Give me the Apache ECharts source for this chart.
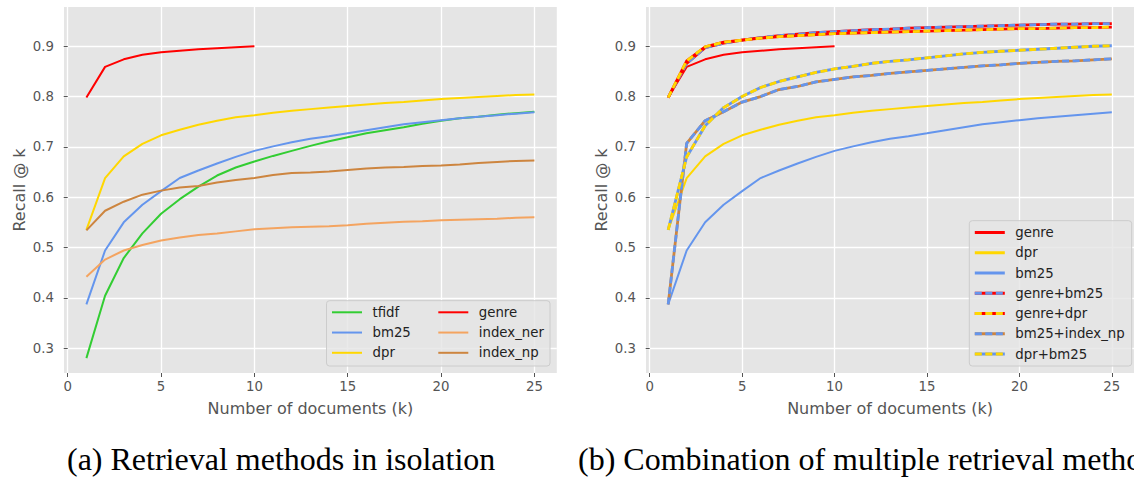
<!DOCTYPE html>
<html><head><meta charset="utf-8">
<script src="https://cdn.jsdelivr.net/npm/echarts@6/dist/echarts.min.js"></script>
<style>html,body{margin:0;padding:0;background:#fff}#c{width:1134px;height:478px}</style>
</head><body><div id="c"></div>
<script>
// ---- data ----
const kValues = [1,2,3,4,5,6,7,8,9,10,11,12,13,14,15,16,17,18,19,20,21,22,23,24,25];
const genreK = [1,2,3,4,5,6,7,8,9,10];
const xTicks = [0,5,10,15,20,25];
const yTicks = [0.3,0.4,0.5,0.6,0.7,0.8,0.9];

const tfidf    = [0.280,0.404,0.479,0.528,0.567,0.596,0.621,0.643,0.659,0.671,0.682,0.692,0.702,0.711,0.719,0.727,0.733,0.739,0.746,0.752,0.757,0.760,0.764,0.767,0.770];
const bm25     = [0.387,0.494,0.550,0.585,0.612,0.638,0.653,0.667,0.680,0.692,0.701,0.709,0.716,0.721,0.727,0.733,0.739,0.745,0.749,0.753,0.757,0.760,0.763,0.766,0.769];
const dpr      = [0.535,0.638,0.681,0.706,0.723,0.734,0.744,0.752,0.759,0.763,0.768,0.772,0.775,0.778,0.781,0.784,0.787,0.789,0.792,0.795,0.797,0.799,0.801,0.803,0.804];
const genre    = [0.798,0.859,0.874,0.883,0.888,0.891,0.894,0.896,0.898,0.900];
const indexNer = [0.442,0.476,0.494,0.505,0.514,0.520,0.525,0.528,0.532,0.536,0.538,0.540,0.541,0.542,0.544,0.547,0.549,0.551,0.552,0.554,0.555,0.556,0.557,0.559,0.560];
const indexNp  = [0.534,0.573,0.591,0.605,0.613,0.619,0.622,0.629,0.634,0.638,0.644,0.648,0.649,0.651,0.654,0.657,0.659,0.660,0.662,0.663,0.665,0.668,0.670,0.672,0.673];

const genreBm25   = [0.798,0.866,0.897,0.906,0.912,0.917,0.921,0.924,0.927,0.929,0.931,0.933,0.934,0.936,0.937,0.938,0.939,0.940,0.941,0.942,0.943,0.944,0.944,0.945,0.945];
const genreDpr    = [0.798,0.871,0.899,0.908,0.912,0.916,0.919,0.921,0.923,0.925,0.926,0.927,0.928,0.929,0.930,0.931,0.932,0.933,0.934,0.935,0.935,0.936,0.937,0.937,0.938];
const bm25IndexNp = [0.387,0.707,0.752,0.770,0.789,0.800,0.814,0.820,0.829,0.834,0.839,0.842,0.846,0.849,0.852,0.855,0.858,0.861,0.863,0.866,0.868,0.870,0.871,0.873,0.875];
const dprBm25     = [0.535,0.680,0.742,0.778,0.800,0.818,0.830,0.839,0.848,0.855,0.860,0.866,0.870,0.873,0.877,0.881,0.885,0.888,0.890,0.892,0.894,0.896,0.898,0.900,0.901];

const xTitle = 'Number of documents (k)';
const yTitle = 'Recall @ k';
const captionA = '(a) Retrieval methods in isolation';
const captionB = '(b) Combination of multiple retrieval methods';

// ---- styles ----
const C = {tfidf:'#32CD32', bm25:'#6495ED', dpr:'#FFD700', genre:'#FF0000', ner:'#F4A460', np:'#CD853F'};
const FONT = 'DejaVu Sans';
const DASH_SUFFIX = ' \u2012';

function pts(ks, vals){ return ks.map((k,i)=>[k, vals[i]]); }
function line(name, ks, vals, color, width, idx, extra){
  return Object.assign({
    type:'line', name:name, xAxisIndex:idx, yAxisIndex:idx,
    data: pts(ks, vals), symbol:'none', showSymbol:false, animation:false,
    lineStyle:{color:color, width:width}, itemStyle:{color:color},
    emphasis:{disabled:true}
  }, extra||{});
}
function dashed(name, ks, vals, color, width, idx){
  return line(name + DASH_SUFFIX, ks, vals, color, width, idx, {
    lineStyle:{color:color, width:width, type:[7,3.5]}, z:3
  });
}

function xAxis(idx){
  return {
    type:'value', gridIndex:idx, min:-0.2, max:26.2,
    axisLine:{show:false},
    axisTick:{show:true, customValues:xTicks, length:4, lineStyle:{color:'#555555', width:1}},
    axisLabel:{customValues:xTicks, color:'#555555', fontSize:13.3, fontFamily:FONT, margin:7},
    splitLine:{show:true, lineStyle:{color:'#ffffff', width:1.3}},
    name:xTitle, nameLocation:'middle', nameGap:27,
    nameTextStyle:{color:'#555555', fontSize:16, fontFamily:FONT}
  };
}
function yAxis(idx){
  return {
    type:'value', gridIndex:idx, min:0.2505, max:0.978,
    axisLine:{show:false},
    axisTick:{show:true, customValues:yTicks, length:4, lineStyle:{color:'#555555', width:1}},
    axisLabel:{customValues:yTicks, color:'#555555', fontSize:13.3, fontFamily:FONT, margin:10,
      formatter:(v)=>v.toFixed(1)},
    splitLine:{show:true, lineStyle:{color:'#ffffff', width:1.3}},
    name:yTitle, nameLocation:'middle', nameGap:37,
    nameTextStyle:{color:'#555555', fontSize:16, fontFamily:FONT}
  };
}

function legend(names, left, top, lineWidth, withText){
  return {
    data:names, orient:'vertical', left:left, top:top, padding:0,
    itemWidth:30, itemHeight:20, itemGap:0.25, z: withText ? 10 : 11,
    selectedMode:false,
    lineStyle:{width:lineWidth},
    itemStyle:{opacity:0, borderWidth:0},
    formatter: withText ? (n)=>n : ()=>' ',
    textStyle:{fontSize:13.3, fontFamily:FONT, color:'#222222', lineHeight:20, padding:[0,0,0,5.5]}
  };
}

const series = [
  // left plot
  line('tfidf', kValues, tfidf, C.tfidf, 2, 0),
  line('bm25', kValues, bm25, C.bm25, 2, 0),
  line('dpr', kValues, dpr, C.dpr, 2, 0),
  line('genre', genreK, genre, C.genre, 2, 0),
  line('index_ner', kValues, indexNer, C.ner, 2, 0),
  line('index_np', kValues, indexNp, C.np, 2, 0),
  // right plot
  line('genre', genreK, genre, C.genre, 2, 1),
  line('dpr', kValues, dpr, C.dpr, 2, 1),
  line('bm25', kValues, bm25, C.bm25, 2, 1),
  line('genre+bm25', kValues, genreBm25, C.genre, 2.8, 1),
  dashed('genre+bm25', kValues, genreBm25, C.bm25, 2.8, 1),
  line('genre+dpr', kValues, genreDpr, C.genre, 2.8, 1),
  dashed('genre+dpr', kValues, genreDpr, C.dpr, 2.8, 1),
  line('bm25+index_np', kValues, bm25IndexNp, C.np, 2.8, 1),
  dashed('bm25+index_np', kValues, bm25IndexNp, C.bm25, 2.8, 1),
  line('dpr+bm25', kValues, dprBm25, C.bm25, 2.8, 1),
  dashed('dpr+bm25', kValues, dprBm25, C.dpr, 2.8, 1)
];

const combos = ['genre+bm25','genre+dpr','bm25+index_np','dpr+bm25'];

const option = {
  animation:false,
  backgroundColor:'#ffffff',
  title:[
    {text:captionA, left:67, top:443, padding:0,
     textStyle:{fontFamily:'Liberation Serif', fontSize:32, fontWeight:'normal', color:'#000000'}},
    {text:captionB, left:578, top:443, padding:0,
     textStyle:{fontFamily:'Liberation Serif', fontSize:32, fontWeight:'normal', color:'#000000'}}
  ],
  grid:[
    {left:64, top:7, width:492.8, height:366, backgroundColor:'#E5E5E5', show:true, borderWidth:0},
    {left:646, top:7, width:492.8, height:366, backgroundColor:'#E5E5E5', show:true, borderWidth:0}
  ],
  xAxis:[xAxis(0), xAxis(1)],
  yAxis:[yAxis(0), yAxis(1)],
  graphic:[
    {type:'rect', z:8, shape:{x:326.5, y:300.7, width:223.5, height:65.3, r:3},
     style:{fill:'rgba(229,229,229,0.8)', stroke:'#cccccc', lineWidth:1}},
    {type:'rect', z:8, shape:{x:969.3, y:220.7, width:162.4, height:145.3, r:3},
     style:{fill:'rgba(229,229,229,0.8)', stroke:'#cccccc', lineWidth:1}}
  ],
  legend:[
    legend(['tfidf','bm25','dpr'], 331, 302.3, 2, true),
    legend(['genre','index_ner','index_np'], 437.3, 302.3, 2, true),
    legend(['genre','dpr','bm25'].concat(combos), 973.3, 222.5, 3, true),
    legend(combos.map(n=>n+DASH_SUFFIX), 973.3, 222.5 + 3*20.25, 3, false)
  ],
  series:series
};

const chart = echarts.init(document.getElementById('c'), null, {renderer:'svg'});
chart.setOption(option);
</script>
</body></html>
